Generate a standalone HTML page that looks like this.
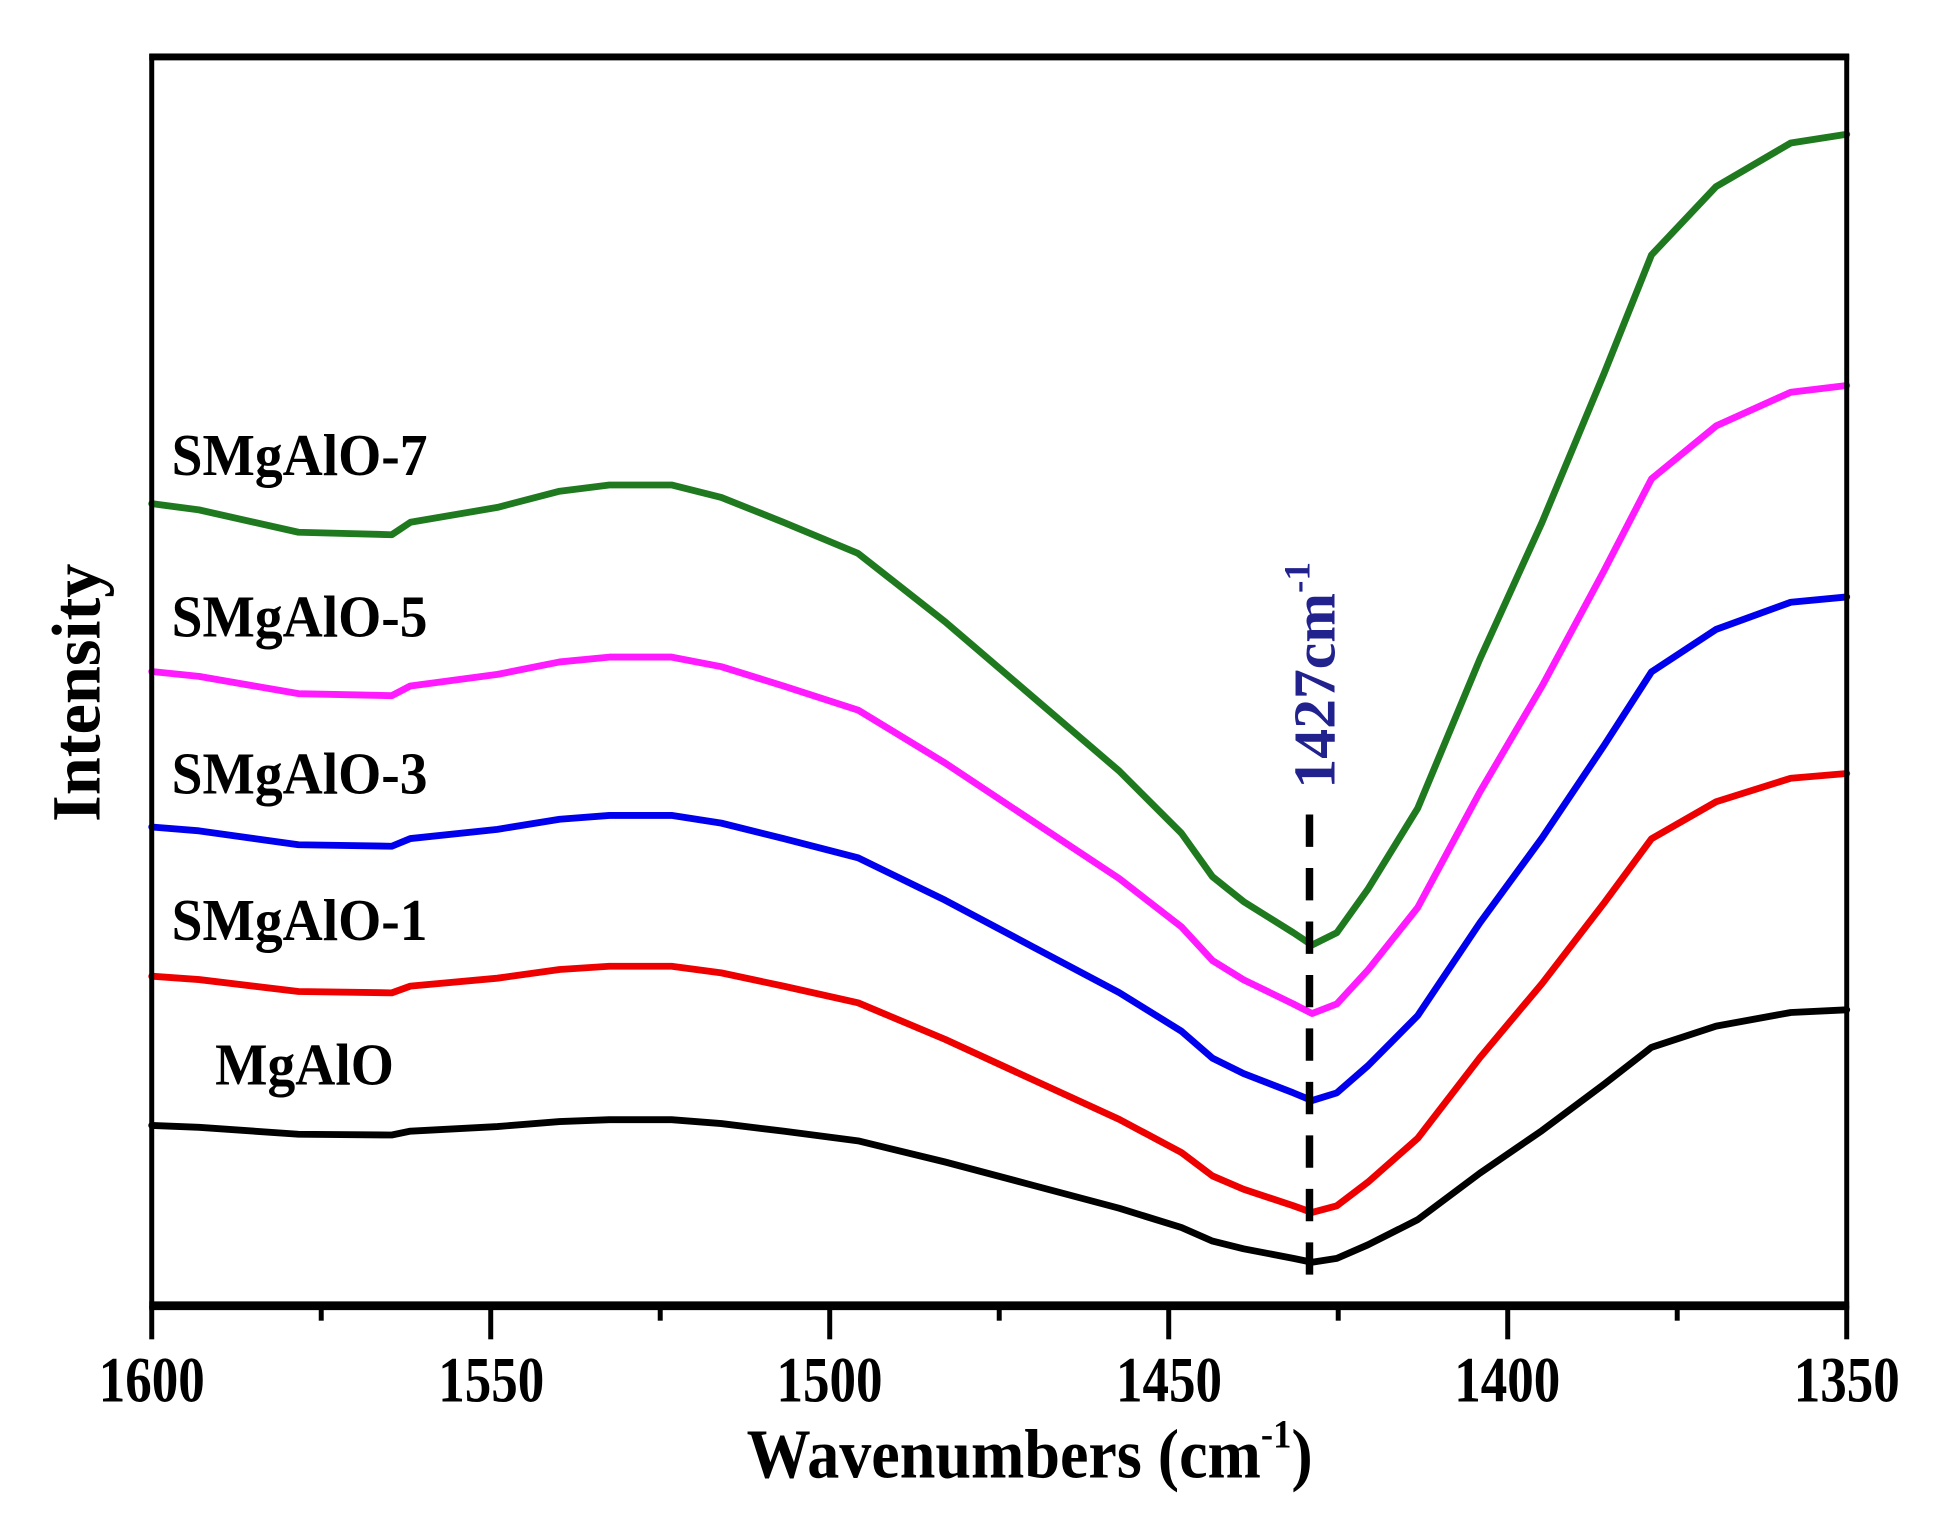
<!DOCTYPE html>
<html><head><meta charset="utf-8"><style>
html,body{margin:0;padding:0;background:#fff;}
svg{display:block;}
text{font-family:"Liberation Serif",serif;font-weight:bold;}
</style></head><body>
<svg id="s" width="1940" height="1524" viewBox="0 0 1560 1225.5" xmlns="http://www.w3.org/2000/svg">
<rect x="0" y="0" width="1560" height="1225.5" fill="#fff"/>
<g id="curves" fill="none" stroke-width="5.5" stroke-linejoin="round" stroke-linecap="round"></g>
<line x1="1053" y1="655" x2="1053" y2="1025" stroke="#000" stroke-width="6" stroke-dasharray="26,17"/>
<rect x="122" y="45" width="1363" height="1005" fill="none" stroke="#000" stroke-width="4"/>
<line x1="120" y1="46" x2="1487" y2="46" stroke="#000" stroke-width="5"/>
<line x1="120" y1="1050" x2="1487" y2="1050" stroke="#000" stroke-width="7"/>
<g id="ticks" stroke="#000" stroke-width="4"></g>
<g font-size="52" text-anchor="middle" fill="#000">
<text transform="translate(122,1127) scale(0.82,1)">1600</text>
<text transform="translate(395,1127) scale(0.82,1)">1550</text>
<text transform="translate(667,1127) scale(0.82,1)">1500</text>
<text transform="translate(940,1127) scale(0.82,1)">1450</text>
<text transform="translate(1212,1127) scale(0.82,1)">1400</text>
<text transform="translate(1485,1127) scale(0.82,1)">1350</text>
</g>
<text transform="translate(828,1188) scale(0.92,1)" font-size="56" text-anchor="middle">Wavenumbers (cm<tspan font-size="32" dy="-24">-1</tspan><tspan dy="24">)</tspan></text>
<text transform="translate(80,557) rotate(-90)" font-size="55" text-anchor="middle">Intensity</text>
<text transform="translate(1073,543) rotate(-90)" font-size="48" text-anchor="middle" fill="#22228f">1427cm<tspan font-size="30" dy="-20">-1</tspan></text>
<g font-size="48" fill="#000">
<text transform="translate(138,382) scale(0.93,1)">SMgAlO-7</text>
<text transform="translate(138,512) scale(0.93,1)">SMgAlO-5</text>
<text transform="translate(138,638) scale(0.93,1)">SMgAlO-3</text>
<text transform="translate(138,756) scale(0.93,1)">SMgAlO-1</text>
<text transform="translate(173,872) scale(0.93,1)">MgAlO</text>
</g>
</svg>
<script>
var G=[[122,405],[160,410],[240,428],[315,430],[330,420],[400,408],[450,395],[490,390],[540,390],[580,400],[630,420],[690,445],[760,500],[830,560],[900,620],[950,670],[975,705],[1000,725],[1040,750],[1055,760],[1075,750],[1100,715],[1140,650],[1190,530],[1240,420],[1290,300],[1322,220],[1328,205],[1380,150],[1440,115],[1485,108]];
var C=[["#1f7a1f",405,760,108],["#ff1aff",540,815,310],["#0000ee",665,885,480],["#ee0000",785,975,622],["#000",905,1015,812]];
var ns="http://www.w3.org/2000/svg",g=document.getElementById("curves");
C.forEach(function(c){var d="";G.forEach(function(p,i){var y;if(p[0]<=1055){var t=(p[1]-405)/(760-405);y=c[1]+t*(c[2]-c[1]);}else{var t=(p[1]-108)/(760-108);y=c[3]+t*(c[2]-c[3]);}d+=(i?"L":"M")+p[0]+","+y.toFixed(1);});
var e=document.createElementNS(ns,"path");e.setAttribute("d",d);e.setAttribute("stroke",c[0]);g.appendChild(e);});
var tk=document.getElementById("ticks");
for(var i=0;i<=10;i++){var x=122+i*136.3;var l=document.createElementNS(ns,"line");l.setAttribute("x1",x);l.setAttribute("x2",x);l.setAttribute("y1",1050);l.setAttribute("y2",i%2?1062:1077);tk.appendChild(l);}
</script>
</body></html>
